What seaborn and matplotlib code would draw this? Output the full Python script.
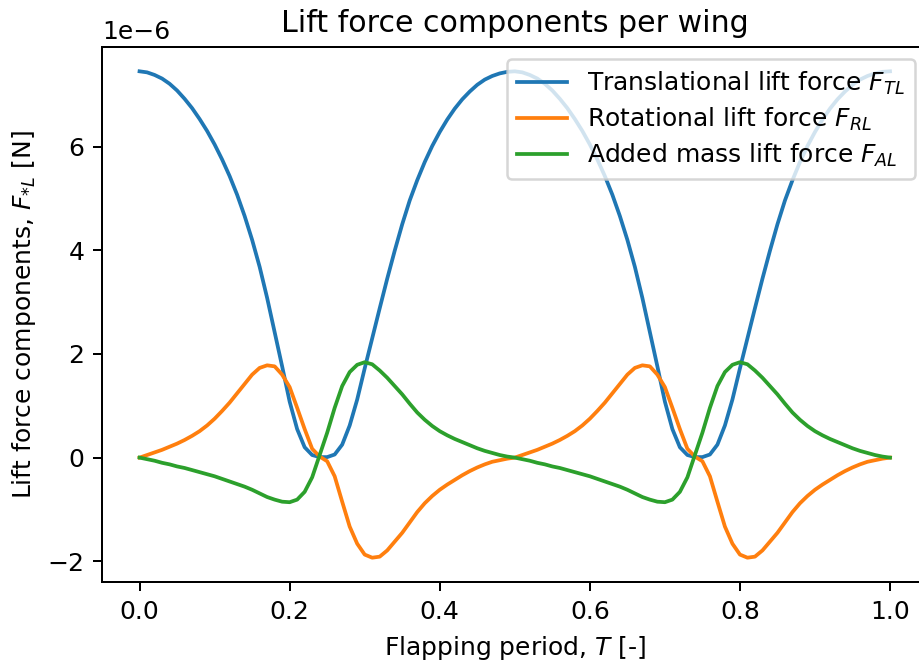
import numpy as np
import pandas as pd
import matplotlib
matplotlib.use('Agg')
import matplotlib.pyplot as plt
import seaborn as sns

# Flapping period samples (101 points, step 0.01)
T = np.linspace(0, 1, 101)

# Lift force components per wing, in units of 1e-6 N
F_TL = [7.45, 7.43, 7.38, 7.31, 7.21, 7.08, 6.92, 6.74, 6.53, 6.30,
        6.04, 5.75, 5.43, 5.07, 4.66, 4.20, 3.68, 3.08, 2.42, 1.76,
        1.08, 0.55, 0.20, 0.05, 0.01, 0.01, 0.06, 0.25, 0.62, 1.12,
        1.72, 2.30, 2.88, 3.45, 3.99, 4.50, 4.96, 5.35, 5.70, 6.01,
        6.28, 6.52, 6.73, 6.91, 7.06, 7.19, 7.29, 7.36, 7.41, 7.44,
        7.45, 7.43, 7.38, 7.31, 7.21, 7.08, 6.92, 6.74, 6.53, 6.30,
        6.04, 5.75, 5.43, 5.07, 4.66, 4.20, 3.68, 3.08, 2.42, 1.76,
        1.08, 0.55, 0.20, 0.05, 0.01, 0.01, 0.06, 0.25, 0.62, 1.12,
        1.72, 2.30, 2.88, 3.45, 3.99, 4.50, 4.96, 5.35, 5.70, 6.01,
        6.28, 6.52, 6.73, 6.91, 7.06, 7.19, 7.29, 7.36, 7.41, 7.44,
        7.45]

F_RL = [0.00, 0.05, 0.10, 0.15, 0.21, 0.27, 0.34, 0.42, 0.51, 0.62,
        0.75, 0.90, 1.06, 1.24, 1.42, 1.60, 1.73, 1.78, 1.76, 1.60,
        1.36, 0.96, 0.55, 0.17, 0.02, -0.07, -0.36, -0.85, -1.33, -1.66,
        -1.87, -1.93, -1.91, -1.79, -1.62, -1.45, -1.25, -1.05, -0.88, -0.74,
        -0.62, -0.52, -0.43, -0.34, -0.26, -0.19, -0.13, -0.08, -0.05, -0.02,
        0.00, 0.05, 0.10, 0.15, 0.21, 0.27, 0.34, 0.42, 0.51, 0.62,
        0.75, 0.90, 1.06, 1.24, 1.42, 1.60, 1.73, 1.78, 1.76, 1.60,
        1.36, 0.96, 0.55, 0.17, 0.02, -0.07, -0.36, -0.85, -1.33, -1.66,
        -1.87, -1.93, -1.91, -1.79, -1.62, -1.45, -1.25, -1.05, -0.88, -0.74,
        -0.62, -0.52, -0.43, -0.34, -0.26, -0.19, -0.13, -0.08, -0.05, -0.02,
        0.00]

F_AL = [0.00, -0.03, -0.06, -0.10, -0.13, -0.17, -0.20, -0.24, -0.28, -0.32,
        -0.36, -0.41, -0.46, -0.51, -0.56, -0.62, -0.69, -0.76, -0.81, -0.85,
        -0.86, -0.81, -0.66, -0.38, 0.05, 0.48, 0.96, 1.38, 1.65, 1.79,
        1.84, 1.80, 1.68, 1.54, 1.38, 1.22, 1.04, 0.87, 0.73, 0.61,
        0.51, 0.43, 0.36, 0.30, 0.24, 0.18, 0.13, 0.09, 0.05, 0.02,
        0.00, -0.03, -0.06, -0.10, -0.13, -0.17, -0.20, -0.24, -0.28, -0.32,
        -0.36, -0.41, -0.46, -0.51, -0.56, -0.62, -0.69, -0.76, -0.81, -0.85,
        -0.86, -0.81, -0.66, -0.38, 0.05, 0.48, 0.96, 1.38, 1.65, 1.79,
        1.84, 1.80, 1.68, 1.54, 1.38, 1.22, 1.04, 0.87, 0.73, 0.61,
        0.51, 0.43, 0.36, 0.30, 0.24, 0.18, 0.13, 0.09, 0.05, 0.02,
        0.00]

labels = [r'Translational lift force $F_{TL}$',
          r'Rotational lift force $F_{RL}$',
          r'Added mass lift force $F_{AL}$']
colors = ['#1f77b4', '#ff7f0e', '#2ca02c']

fig = plt.figure(figsize=(920 / 180, 661 / 180), dpi=180)
# axes runs slightly past the right edge, as in the reference
ax = fig.add_axes([0.1109, 0.1195, 0.8973, 0.8094])

for series, label, color in zip([F_TL, F_RL, F_AL], labels, colors):
    sns.lineplot(x=T, y=np.array(series) * 1e-6, ax=ax,
                 color=color, label=label, linewidth=1.5)

ax.set_title('Lift force components per wing')
ax.set_xlabel(r'Flapping period, $T$ [-]')
ax.set_ylabel(r'Lift force components, $F_{*L}$ [N]')
ax.legend(loc='upper right', labelspacing=0.35)

fig.savefig('out.png', dpi=180)
